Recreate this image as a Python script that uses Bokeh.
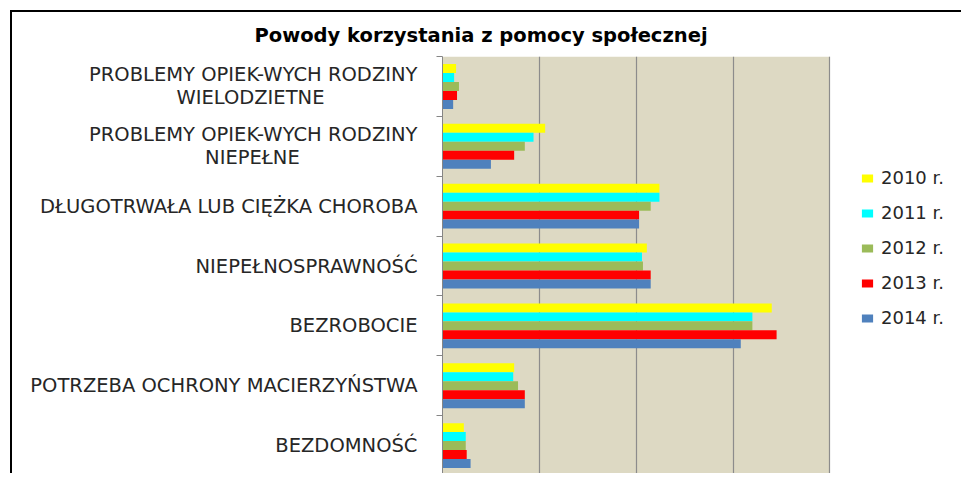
from bokeh.plotting import figure
from bokeh.models import (ColumnDataSource, Range1d, FixedTicker, Legend, LegendItem,
                          BoxAnnotation)
from bokeh.transform import dodge
from bokeh.embed import file_html
from bokeh.resources import INLINE

NB = "\u00a0"
categories = [
    "PROBLEMY OPIEK-WYCH RODZINY\nWIELODZIETNE" + NB * 15,
    "PROBLEMY OPIEK-WYCH RODZINY\nNIEPEŁNE" + NB * 19,
    "DŁUGOTRWAŁA LUB CIĘŻKA CHOROBA",
    "NIEPEŁNOSPRAWNOŚĆ",
    "BEZROBOCIE",
    "POTRZEBA OCHRONY MACIERZYŃSTWA",
    "BEZDOMNOŚĆ",
]
years = ["2010 r.", "2011 r.", "2012 r.", "2013 r.", "2014 r."]
v2010 = [14, 106, 224, 211, 340, 74, 22]
v2011 = [12, 94, 224, 206, 320, 73, 24]
v2012 = [17, 85, 215, 207, 320, 78, 24]
v2013 = [15, 74, 203, 215, 345, 85, 25]
v2014 = [11, 50, 203, 215, 308, 85, 29]
series = [v2010, v2011, v2012, v2013, v2014]
colors = ["#FFFF00", "#00FFFF", "#9BBB59", "#FF0000", "#4F81BD"]
grid_ticks = [100, 200, 300, 400]
axis_max = 400

FONT = "DejaVu Sans"
TXT = "#262626"

pos = [i + 0.5 for i in range(len(categories))]
bounds = [i for i in range(len(categories) + 1)]

p = figure(width=951, height=463, output_backend="svg", toolbar_location=None,
           x_range=Range1d(0, 538), y_range=Range1d(7, 0),
           min_border_left=430, min_border_right=0, min_border_top=43,
           min_border_bottom=0)
p.margin = (10, 0, 0, 10)
p.styles = {"border-top": "2px solid black", "border-left": "2px solid black"}

p.background_fill_color = "white"
p.border_fill_color = "white"
p.outline_line_color = None

plot_bg = BoxAnnotation(left=0, right=axis_max, fill_color="#DDD9C3", fill_alpha=1,
                        line_color=None, level="image")
p.add_layout(plot_bg)

p.title.text = "Powody korzystania z pomocy społecznej"
p.title.align = "left"
p.title.offset = -188
p.title.text_font = FONT
p.title.text_font_size = "19.5px"
p.title.text_font_style = "bold"
p.title.text_color = "black"
p.title.text_line_height = 0.8
p.title.standoff = 19

p.xaxis.visible = False
p.xgrid.ticker = FixedTicker(ticks=grid_ticks)
p.xgrid.grid_line_color = "#8C8C8C"
p.xgrid.grid_line_width = 1.2
p.ygrid.visible = False

ax = p.yaxis[0]
ax.ticker = FixedTicker(ticks=pos, minor_ticks=bounds)
ax.major_label_overrides = {pp: c for pp, c in zip(pos, categories)}
ax.major_tick_line_color = None
ax.major_tick_out = 0
ax.major_tick_in = 0
ax.minor_tick_out = 6
ax.minor_tick_in = 0
ax.minor_tick_line_color = "#868686"
ax.axis_line_color = "#868686"
ax.major_label_standoff = 19
ax.major_label_text_font = FONT
ax.major_label_text_font_size = "19.5px"
ax.major_label_text_line_height = 1.0
ax.major_label_text_color = TXT

data = {"pos": pos}
for y, s in zip(years, series):
    data[y] = s
src = ColumnDataSource(data)

offsets = [-0.3, -0.15, 0.0, 0.15, 0.3]
items = []
for y, c, off in zip(years, colors, offsets):
    r = p.hbar(y=dodge("pos", off, range=p.y_range), left=0, right=y, height=0.15,
               source=src, fill_color=c, line_color=None)
    items.append(LegendItem(label=y, renderers=[r]))

legend = Legend(items=items, location=(418, 147))
legend.background_fill_alpha = 0
legend.border_line_color = None
legend.padding = 0
legend.margin = 0
legend.spacing = 14
legend.glyph_width = 14
legend.glyph_height = 10
legend.label_height = 20
legend.label_standoff = 7
legend.label_text_font = FONT
legend.label_text_font_size = "18px"
legend.label_text_color = TXT
p.add_layout(legend, "center")

open("out.html", "w").write(file_html(p, INLINE))
